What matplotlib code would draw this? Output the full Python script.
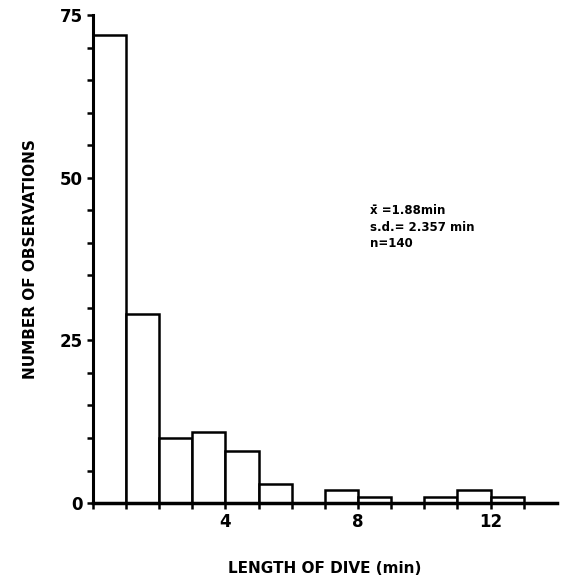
import matplotlib
matplotlib.use("Agg")
from matplotlib import pyplot as plt
from matplotlib.ticker import FixedLocator, MultipleLocator

# Dive length bins (minutes) and number of observations in each bin.
bin_starts = [0, 1, 2, 3, 4, 5, 6, 7, 8, 9, 10, 11, 12]
counts = [72, 29, 10, 11, 8, 3, 0, 2, 1, 0, 1, 2, 1]
x_ticks = [4, 8, 12]
y_ticks = [0, 25, 50, 75]
stats_lines = ["x\u0304 =1.88min", "s.d.= 2.357 min", "n=140"]

fig = plt.figure(figsize=(5.7, 5.87), dpi=100)
ax = fig.add_axes([0.163, 0.143, 0.814, 0.831])

# Histogram drawn as outlined bars of one-minute width.
ax.bar(bin_starts, counts, width=1, align="edge", facecolor="white",
       edgecolor="black", linewidth=1.8, zorder=2)

ax.set_xlim(0, 14)
ax.set_ylim(0, 75)
ax.spines["top"].set_visible(False)
ax.spines["right"].set_visible(False)
ax.spines["left"].set_linewidth(2.2)
ax.spines["bottom"].set_linewidth(2.5)

ax.set_xticks(x_ticks)
ax.set_xticklabels([str(t) for t in x_ticks], fontsize=12, fontweight="bold")
# Minor ticks only at the bin edges, none past the last bin.
ax.xaxis.set_minor_locator(FixedLocator(bin_starts + [bin_starts[-1] + 1]))
ax.set_yticks(y_ticks)
ax.set_yticklabels([str(t) for t in y_ticks], fontsize=12, fontweight="bold")
ax.yaxis.set_minor_locator(MultipleLocator(5))
ax.tick_params(axis="both", which="both", direction="out", width=1.8, length=4, pad=3)

ax.set_xlabel("LENGTH OF DIVE (min)", fontsize=11, fontweight="bold", labelpad=22)
ax.set_ylabel("NUMBER OF OBSERVATIONS", fontsize=11, fontweight="bold", labelpad=16)

# Summary statistics block.
ax.text(0.598, 0.613, "\n".join(stats_lines), transform=ax.transAxes,
        fontsize=8.5, fontweight="bold", va="top", ha="left", linespacing=1.35)

fig.savefig("out.png", dpi=100)
plt.close(fig)
